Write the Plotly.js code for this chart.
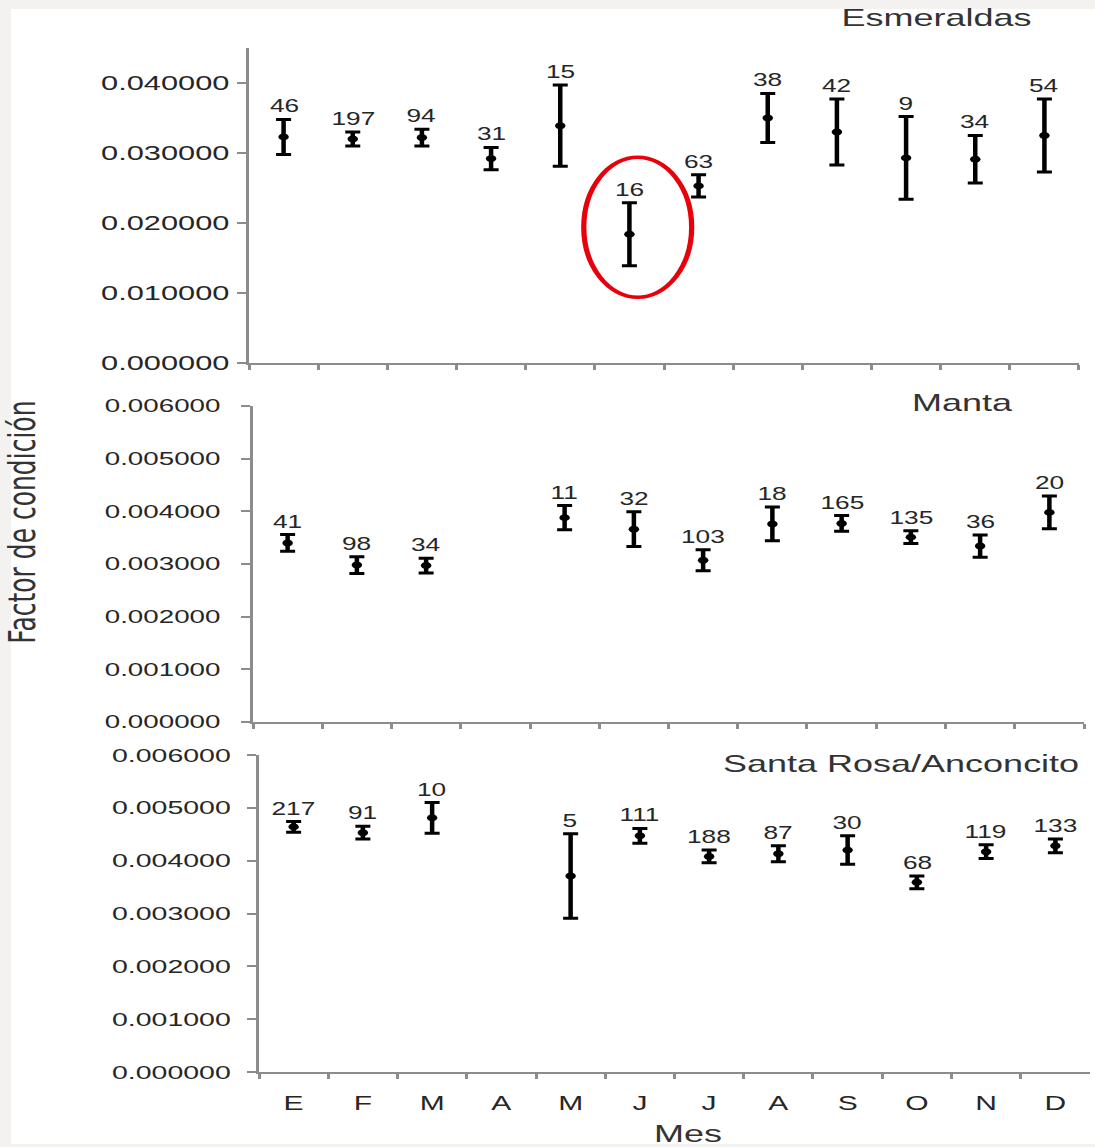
<!DOCTYPE html>
<html>
<head>
<meta charset="utf-8">
<script src="https://cdn.plot.ly/plotly-3.0.1.min.js"></script>
<style>
  html, body { margin: 0; padding: 0; width: 1095px; height: 1147px; overflow: hidden; background: #f3f2f0; }
  #sheet { position: absolute; left: 11px; top: 9px; width: 1084px; height: 1135px; background: #ffffff; }
  #chart { position: absolute; left: 0; top: 0; width: 730px; height: 1147px; transform: scaleX(1.5); transform-origin: 0 0; }
</style>
</head>
<body>
<div id="sheet"></div>
<div id="chart"></div>
<script>
// ---- data ----
const months = ["Ene","Feb","Mar","Abr","May","Jun","Jul","Ago","Sep","Oct","Nov","Dic"];
const monthLabels = ["E","F","M","A","M","J","J","A","S","O","N","D"];

const esmeraldasMean = [0.0323, 0.0320, 0.0322, 0.0292, 0.0339, 0.0184, 0.0253, 0.0350, 0.0330, 0.0293, 0.0291, 0.0325];
const esmeraldasErr  = [0.0025, 0.0010, 0.0012, 0.0016, 0.0058, 0.0045, 0.0016, 0.0035, 0.0047, 0.0059, 0.0034, 0.0052];
const esmeraldasN    = [46, 197, 94, 31, 15, 16, 63, 38, 42, 9, 34, 54];

const mantaMean = [0.00340, 0.00298, 0.00297, null, 0.00388, 0.00366, 0.00307, 0.00376, 0.00377, 0.00351, 0.00334, 0.00398];
const mantaErr  = [0.00016, 0.00016, 0.00014, null, 0.00023, 0.00033, 0.00020, 0.00032, 0.00015, 0.00012, 0.00021, 0.00031];
const mantaN    = [41, 98, 34, null, 11, 32, 103, 18, 165, 135, 36, 20];

const santaRosaMean = [0.00464, 0.00453, 0.00481, null, 0.00371, 0.00447, 0.00408, 0.00413, 0.00420, 0.00359, 0.00417, 0.00428];
const santaRosaErr  = [0.00010, 0.00012, 0.00029, null, 0.00080, 0.00014, 0.00012, 0.00015, 0.00027, 0.00012, 0.00013, 0.00013];
const santaRosaN    = [217, 91, 10, null, 5, 111, 188, 87, 30, 68, 119, 133];

const panelTitles = ["Esmeraldas", "Manta", "Santa Rosa/Anconcito"];
const highlightIndex = 5; // month circled in red (Esmeraldas, J, n=16)

// ---- helpers (layout geometry only) ----
const FULL_W = 1095, FULL_H = 1147;
const px = v => v / FULL_W;
const py = v => 1 - v / FULL_H;
const FONT = "Liberation Sans, Arial, Helvetica, sans-serif";
const AXIS_GRAY = "#8c8c8c";
const TEXT = "#262626";

function trace(mean, err, xa, ya) {
  return {
    type: "scatter", mode: "markers",
    x: months, y: mean, xaxis: xa, yaxis: ya,
    marker: { color: "#000", size: 7, symbol: "circle" },
    error_y: { type: "data", array: err, visible: true, color: "#000", thickness: 3, width: 5 },
    hoverinfo: "skip", showlegend: false, cliponaxis: false
  };
}

const data = [
  trace(esmeraldasMean, esmeraldasErr, "x", "y"),
  trace(mantaMean, mantaErr, "x2", "y2"),
  trace(santaRosaMean, santaRosaErr, "x3", "y3")
];

function xAxis(domain, anchor, showLabels) {
  return {
    domain: domain, anchor: anchor, type: "category",
    categoryorder: "array", categoryarray: months,
    range: [-0.5, months.length - 0.5], autorange: false,
    tickmode: "array", tickvals: months, ticktext: monthLabels,
    tickson: "boundaries", ticks: "outside", ticklen: 5, tickwidth: 2, tickcolor: AXIS_GRAY,
    showline: true, linecolor: AXIS_GRAY, linewidth: 2,
    showgrid: false, zeroline: false, fixedrange: true,
    showticklabels: showLabels, ticklabelstandoff: 12,
    tickfont: { family: FONT, size: 20, color: TEXT }
  };
}
function yAxis(domain, anchor, max, dtick, fontSize, standoff) {
  return {
    domain: domain, anchor: anchor, range: [0, max], autorange: false,
    tickmode: "linear", tick0: 0, dtick: dtick, tickformat: ".6f",
    ticks: "outside", ticklen: 6, tickwidth: 2, tickcolor: AXIS_GRAY,
    showline: true, linecolor: AXIS_GRAY, linewidth: 2,
    showgrid: false, zeroline: false, fixedrange: true,
    ticklabelstandoff: standoff,
    tickfont: { family: FONT, size: fontSize, color: TEXT }
  };
}

const annotations = [];
function nLabels(mean, err, ns, xa, ya) {
  for (let i = 0; i < months.length; i++) {
    if (ns[i] === null || mean[i] === null) continue;
    annotations.push({
      x: months[i], y: mean[i] + err[i], xref: xa, yref: ya,
      text: String(ns[i]), showarrow: false, xanchor: "center", yanchor: "bottom", yshift: 1,
      font: { family: FONT, size: 17.5, color: TEXT }
    });
  }
}
nLabels(esmeraldasMean, esmeraldasErr, esmeraldasN, "x", "y");
nLabels(mantaMean, mantaErr, mantaN, "x2", "y2");
nLabels(santaRosaMean, santaRosaErr, santaRosaN, "x3", "y3");

// panel titles
annotations.push({ text: panelTitles[0], xref: "paper", yref: "paper", x: px(1035), y: py(18), xanchor: "right", yanchor: "middle", showarrow: false, font: { family: FONT, size: 24, color: "#333" } });
annotations.push({ text: panelTitles[1], xref: "paper", yref: "paper", x: px(1016), y: py(403), xanchor: "right", yanchor: "middle", showarrow: false, font: { family: FONT, size: 24, color: "#333" } });
annotations.push({ text: panelTitles[2], xref: "paper", yref: "paper", x: px(1082), y: py(763), xanchor: "right", yanchor: "middle", showarrow: false, font: { family: FONT, size: 24, color: "#333" } });
// axis titles
annotations.push({ text: "Factor de condición", xref: "paper", yref: "paper", x: px(22), y: py(522), xanchor: "center", yanchor: "middle", textangle: -90, showarrow: false, font: { family: "DejaVu Sans, sans-serif", size: 25, color: "#333" } });
annotations.push({ text: "Mes", xref: "paper", yref: "paper", x: px(688), y: py(1133), xanchor: "center", yanchor: "middle", showarrow: false, font: { family: FONT, size: 24, color: "#333" } });

const layout = {
  width: 730, height: 1147,
  margin: { l: 0, r: 0, t: 0, b: 0, pad: 0 },
  paper_bgcolor: "rgba(0,0,0,0)", plot_bgcolor: "rgba(0,0,0,0)",
  showlegend: false,
  font: { family: FONT, color: TEXT },
  xaxis:  xAxis([px(249), px(1079)], "y", false),
  yaxis:  yAxis([py(363), py(48)], "x", 0.045, 0.01, 20.5, 1),
  xaxis2: xAxis([px(253), px(1084)], "y2", false),
  yaxis2: yAxis([py(722), py(406)], "x2", 0.006, 0.001, 18.5, 10),
  xaxis3: xAxis([px(259), px(1090)], "y3", true),
  yaxis3: yAxis([py(1072), py(755)], "x3", 0.006, 0.001, 19, 7),
  annotations: annotations,
  shapes: [{
    type: "circle", xref: "x", yref: "y",
    x0: highlightIndex - 0.66, x1: highlightIndex + 0.9,
    y0: esmeraldasMean[highlightIndex] - 0.0090, y1: esmeraldasMean[highlightIndex] + 0.0110,
    line: { color: "#e8000b", width: 3.5 }
  }]
};

Plotly.newPlot("chart", data, layout, { displayModeBar: false, staticPlot: true });
</script>
</body>
</html>
